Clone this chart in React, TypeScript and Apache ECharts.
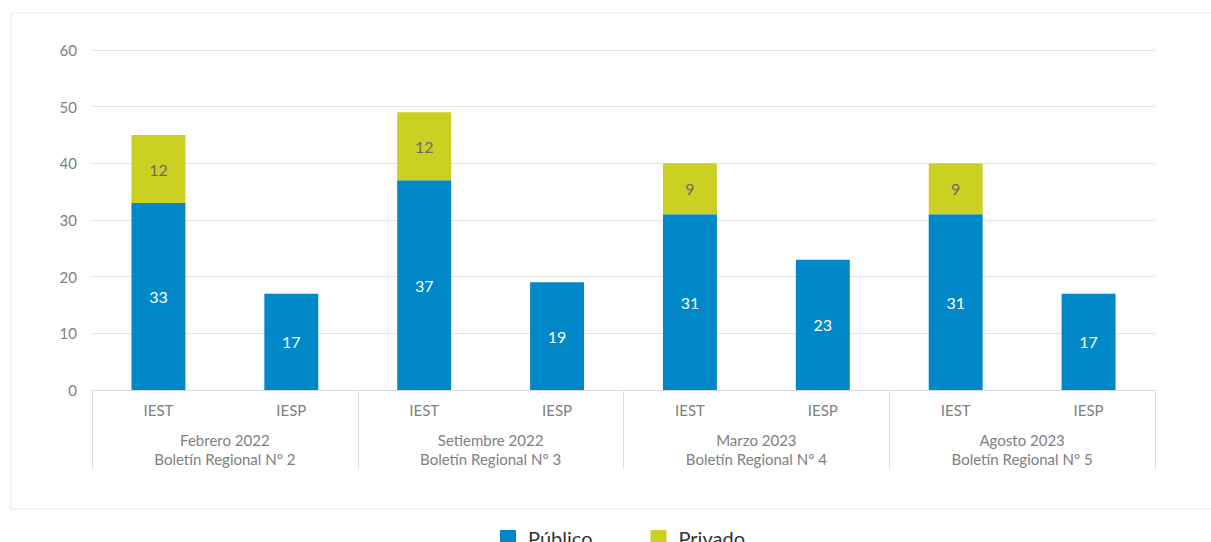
import React, { useEffect, useRef } from "react";
import * as echarts from "echarts";

const typeLabels = ["IEST", "IESP", "IEST", "IESP", "IEST", "IESP", "IEST", "IESP"];
const periodLabels = [
  "Febrero 2022\nBoletín Regional N° 2",
  "Setiembre 2022\nBoletín Regional N° 3",
  "Marzo 2023\nBoletín Regional N° 4",
  "Agosto 2023\nBoletín Regional N° 5",
];
const publico = [33, 17, 37, 19, 31, 23, 31, 17];
const privado: (number | string)[] = [12, "-", 12, "-", 9, "-", 9, "-"];
const yTicks = { min: 0, max: 60, interval: 10 };

const FONT = "Lato, 'Open Sans', sans-serif";
const GRAY = "#808080";

export default function App() {
  const ref = useRef<HTMLDivElement>(null);
  useEffect(() => {
    if (!ref.current) return;
    const chart = echarts.init(ref.current, undefined, { renderer: "svg" });
    chart.setOption({
      animation: false,
      textStyle: { fontFamily: FONT },
      graphic: [
        {
          type: "rect",
          shape: { x: 11, y: 13, width: 1300, height: 496 },
          style: { fill: "none", stroke: "#e8e8e8", lineWidth: 1 },
          silent: true,
        },
      ],
      grid: { left: 92, right: 56, top: 50, height: 340 },
      legend: {
        left: 495,
        top: 523,
        icon: "rect",
        itemWidth: 16,
        itemHeight: 16,
        itemGap: 58,
        textStyle: { fontSize: 20, color: "#333", fontFamily: FONT, padding: [0, 0, 0, 7] },
        data: ["Público", "Privado"],
      },
      xAxis: [
        {
          type: "category",
          data: typeLabels,
          position: "bottom",
          axisLine: { show: true, lineStyle: { color: "#dcdcdc" } },
          axisTick: { show: false },
          axisLabel: { color: GRAY, fontSize: 15, margin: 12, fontFamily: FONT },
        },
        {
          type: "category",
          data: periodLabels,
          position: "bottom",
          axisLine: { show: false },
          axisTick: { show: true, length: 79, lineStyle: { color: "#dcdcdc" } },
          axisLabel: {
            color: GRAY,
            fontSize: 15,
            lineHeight: 19,
            margin: 40,
            fontFamily: FONT,
          },
        },
      ],
      yAxis: {
        type: "value",
        min: yTicks.min,
        max: yTicks.max,
        interval: yTicks.interval,
        axisLine: { show: false },
        axisTick: { show: false },
        axisLabel: { color: GRAY, fontSize: 15, margin: 15, fontFamily: FONT },
        splitLine: { lineStyle: { color: "#e3e3e3" } },
      },
      series: [
        {
          name: "Público",
          type: "bar",
          stack: "total",
          xAxisIndex: 0,
          barWidth: "40.6%",
          data: publico,
          itemStyle: { color: "#0088c9" },
          label: { show: true, position: "inside", color: "#ffffff", fontSize: 16, fontFamily: FONT },
        },
        {
          name: "Privado",
          type: "bar",
          stack: "total",
          xAxisIndex: 0,
          barWidth: "40.6%",
          data: privado,
          itemStyle: { color: "#cad122" },
          label: { show: true, position: "inside", color: "#6b6b6b", fontSize: 16, fontFamily: FONT },
        },
      ],
    });
    return () => chart.dispose();
  }, []);
  return (
    <div
      ref={ref}
      style={{ position: "absolute", left: 0, top: 0, width: 1211, height: 580 }}
    />
  );
}
